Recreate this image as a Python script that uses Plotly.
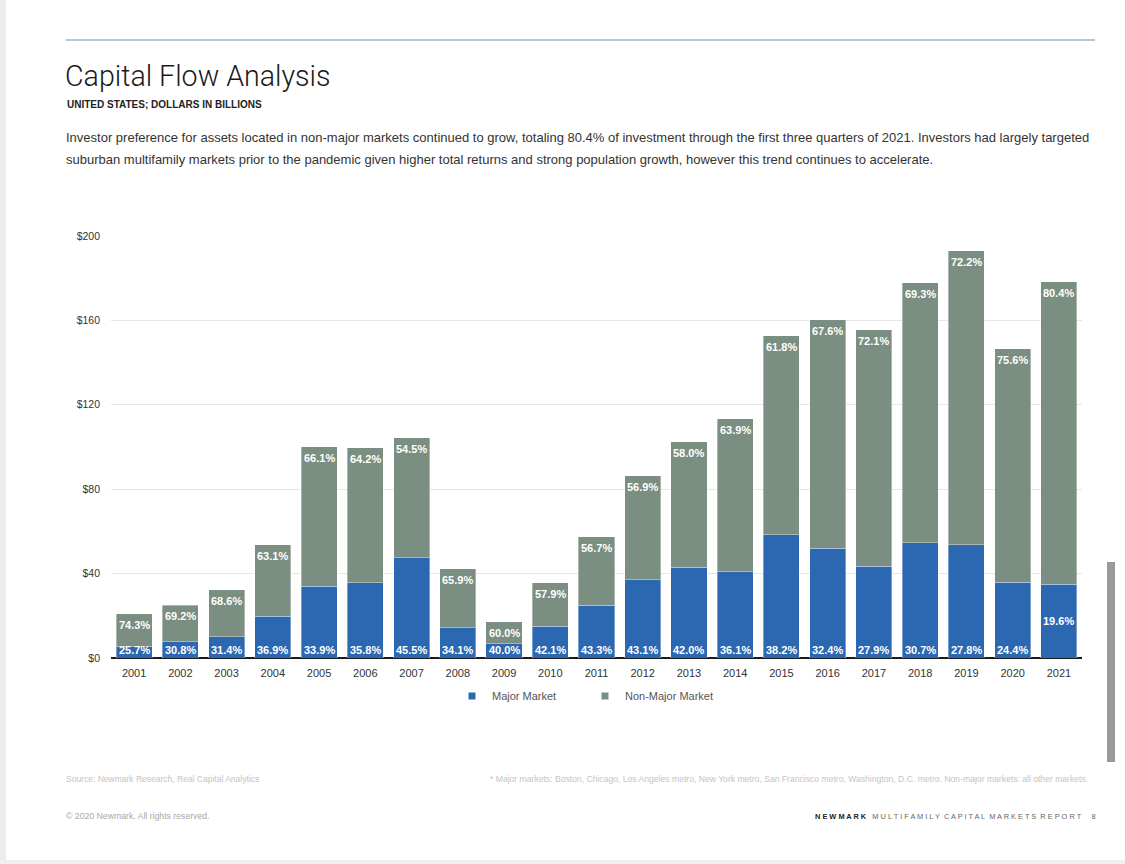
import plotly.graph_objects as go

# ---------------- data ----------------
years = [str(y) for y in range(2001, 2022)]
major_market = [5.4, 7.7, 10.1, 19.8, 33.9, 35.7, 47.5, 14.4, 6.8, 15.0, 24.9,
                37.2, 43.0, 40.9, 58.4, 51.9, 43.4, 54.6, 53.7, 35.8, 35.0]
non_major_market = [15.5, 17.4, 22.2, 33.8, 66.2, 63.9, 56.9, 27.8, 10.3, 20.6, 32.5,
                    49.1, 59.5, 72.5, 94.4, 108.4, 112.2, 123.3, 139.4, 110.8, 143.4]
major_pct = ["25.7%", "30.8%", "31.4%", "36.9%", "33.9%", "35.8%", "45.5%", "34.1%",
             "40.0%", "42.1%", "43.3%", "43.1%", "42.0%", "36.1%", "38.2%", "32.4%",
             "27.9%", "30.7%", "27.8%", "24.4%", "19.6%"]
non_major_pct = ["74.3%", "69.2%", "68.6%", "63.1%", "66.1%", "64.2%", "54.5%", "65.9%",
                 "60.0%", "57.9%", "56.7%", "56.9%", "58.0%", "63.9%", "61.8%", "67.6%",
                 "72.1%", "69.3%", "72.2%", "75.6%", "80.4%"]
y_ticks = [0, 40, 80, 120, 160, 200]
y_tick_labels = ["$0", "$40", "$80", "$120", "$160", "$200"]

BLUE = "#2C68B1"
GREY = "#7A8E81"
FONT = "Liberation Sans, Arial, sans-serif"

W, H = 1125, 864
L, R, T, B = 111, 43, 236, 206
PW, PH = W - L - R, H - T - B


def X(px):
    return (px - L) / PW


def Y(py):
    return (H - B - py) / PH


fig = go.Figure()
fig.add_trace(go.Bar(x=years, y=major_market, name="Major Market", marker_color=BLUE,
                     marker_line=dict(width=0.6, color="rgba(255,255,255,0.6)"),
                     width=0.78, showlegend=False, hoverinfo="x+y"))
fig.add_trace(go.Bar(x=years, y=non_major_market, name="Non-Major Market", marker_color=GREY,
                     marker_line=dict(width=0.6, color="rgba(255,255,255,0.6)"),
                     width=0.78, showlegend=False, hoverinfo="x+y"))
# legend entries with small square symbols
fig.add_trace(go.Scatter(x=[None], y=[None], mode="markers", name="Major Market",
                         marker=dict(symbol="square", size=7, color=BLUE)))
fig.add_trace(go.Scatter(x=[None], y=[None], mode="markers", name="Non-Major Market",
                         marker=dict(symbol="square", size=7, color=GREY)))

annotations = []
lab_font = dict(family=FONT, size=11, color="white")
for i, yr in enumerate(years):
    total = major_market[i] + non_major_market[i]
    annotations.append(dict(x=i, y=total, xref="x", yref="y", text="<b>%s</b>" % non_major_pct[i],
                            showarrow=False, yanchor="top", yshift=-3, font=lab_font))
    if i == len(years) - 1:
        annotations.append(dict(x=i, y=major_market[i] / 2, xref="x", yref="y",
                                text="<b>%s</b>" % major_pct[i], showarrow=False,
                                yanchor="middle", font=lab_font))
    else:
        annotations.append(dict(x=i, y=0, xref="x", yref="y", text="<b>%s</b>" % major_pct[i],
                                showarrow=False, yanchor="bottom", yshift=0, font=lab_font))


def txt(px, py, text, size, color="#333", xanchor="left", weight="normal", family=FONT):
    annotations.append(dict(x=X(px), y=Y(py), xref="paper", yref="paper", text=text,
                            showarrow=False, xanchor=xanchor, yanchor="middle",
                            font=dict(family=family, size=size, color=color, weight=weight)))


txt(63, 76, "Capital Flow Analysis", 28.6, "#1a1a1a", family="Roboto, Liberation Sans, sans-serif",
    weight=300)
txt(65, 104, "<b>UNITED STATES; DOLLARS IN BILLIONS</b>", 10, "#222")
txt(64, 138, "Investor preference for assets located in non-major markets continued to grow, totaling 80.4% "
    "of investment through the first three quarters of 2021. Investors had largely targeted", 13, "#333")
txt(64, 159, "suburban multifamily markets prior to the pandemic given higher total returns and strong "
    "population growth, however this trend continues to accelerate.", 13, "#333")
txt(64, 779, "Source: Newmark Research, Real Capital Analytics", 8.5, "#c4c4c4")
txt(1090, 779, "* Major markets: Boston, Chicago, Los Angeles metro, New York metro, San Francisco metro, "
    "Washington, D.C. metro. Non-major markets: all other markets.", 8.6, "#c4c4c4", xanchor="right")
txt(64, 816, "© 2020 Newmark. All rights reserved.", 8.7, "#a8a8a8")
txt(1098, 816, "<b><span style='color:#222'>N E W M A R K</span></b>&nbsp;&nbsp; M U L T I F A M I L Y&nbsp; "
    "C A P I T A L&nbsp; M A R K E T S&nbsp; R E P O R T&nbsp;&nbsp;&nbsp;&nbsp; 8", 7.4, "#666",
    xanchor="right")

shapes = [
    dict(type="line", xref="paper", yref="paper", x0=X(66), x1=X(1095), y0=Y(40), y1=Y(40),
         line=dict(color="#6F8FB4", width=1)),
    # scrollbar
    dict(type="rect", xref="paper", yref="paper", x0=X(1107), x1=X(1115), y0=Y(562), y1=Y(762),
         fillcolor="#9a9a9a", line=dict(width=0)),
    # left / bottom page edges
    dict(type="rect", xref="paper", yref="paper", x0=X(0), x1=X(6), y0=Y(0), y1=Y(860),
         fillcolor="#ececec", line=dict(width=0), layer="below"),
    dict(type="rect", xref="paper", yref="paper", x0=X(0), x1=X(1125), y0=Y(860), y1=Y(864),
         fillcolor="#f0f0f0", line=dict(width=0), layer="below"),
]

fig.update_layout(
    barmode="stack",
    width=W, height=H, autosize=False,
    margin=dict(l=L, r=R, t=T, b=B, pad=0),
    paper_bgcolor="white", plot_bgcolor="white",
    font=dict(family=FONT, color="#333"),
    annotations=annotations,
    shapes=shapes,
    legend=dict(orientation="h", x=X(452), xanchor="left", y=Y(696), yanchor="middle",
                traceorder="normal",
                font=dict(size=11, color="#555"), itemwidth=30, entrywidth=88,
                bgcolor="rgba(0,0,0,0)"),
    xaxis=dict(type="category", range=[-0.5, 20.5], showgrid=False, ticks="",
               tickfont=dict(size=11, color="#333"), showline=False, zeroline=False,
               ticklabelstandoff=7),
    yaxis=dict(range=[0, 200], tickvals=y_ticks, ticktext=y_tick_labels, showgrid=True,
               gridcolor="#e6e6e6", gridwidth=1, zeroline=True, zerolinecolor="#1a1a1a",
               zerolinewidth=2, tickfont=dict(size=10.5, color="#333"), ticklabelstandoff=10,
               showline=False),
)

fig.write_html("out.html")
